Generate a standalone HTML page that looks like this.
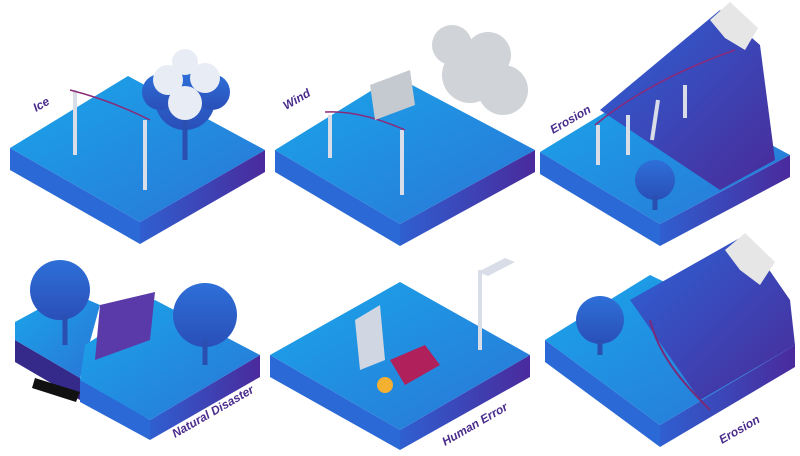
<!DOCTYPE html>
<html><head><meta charset="utf-8"><style>
html,body{margin:0;padding:0;background:#fff;width:800px;height:456px;overflow:hidden}
svg{display:block}
text{font-family:"Liberation Sans",sans-serif;font-weight:bold;font-style:italic;fill:#4a2c8c;font-size:12px}
</style></head><body>
<svg width="800" height="456" viewBox="0 0 800 456" xmlns="http://www.w3.org/2000/svg">
<defs>
<linearGradient id="top" x1="0" y1="0" x2="1" y2="1">
<stop offset="0" stop-color="#1aa6ea"/><stop offset="1" stop-color="#2a74d6"/></linearGradient>
<linearGradient id="side" x1="0" y1="0" x2="1" y2="0">
<stop offset="0" stop-color="#2f5fd0"/><stop offset="1" stop-color="#4a2a9c"/></linearGradient>
<linearGradient id="mtn" x1="0" y1="0" x2="1" y2="1">
<stop offset="0" stop-color="#2c64d8"/><stop offset="1" stop-color="#4a2a98"/></linearGradient>
<linearGradient id="tree" x1="0" y1="0" x2="0" y2="1">
<stop offset="0" stop-color="#2e6fd8"/><stop offset="1" stop-color="#2a4fb8"/></linearGradient>
</defs>

<!-- Tile 1 -->
<polygon points="10,148 140,222 140,244 10,170" fill="#2b6ad6"/>
<polygon points="140,222 265,150 265,172 140,244" fill="url(#side)"/>
<polygon points="10,148 128,76 265,150 140,222" fill="url(#top)"/>
<!-- Tile 2 -->
<polygon points="275,150 400,224 400,246 275,172" fill="#2b6ad6"/>
<polygon points="400,224 535,150 535,172 400,246" fill="url(#side)"/>
<polygon points="275,150 395,76 535,150 400,224" fill="url(#top)"/>
<!-- Tile 3 -->
<polygon points="540,152 660,224 660,246 540,174" fill="#2b6ad6"/>
<polygon points="660,224 790,155 790,177 660,246" fill="url(#side)"/>
<polygon points="540,152 655,82 790,155 660,224" fill="url(#top)"/>
<polygon points="600,110 720,10 760,45 775,160 720,190" fill="url(#mtn)"/>
<polygon points="710,20 730,2 758,28 745,50 725,38" fill="#e6e6e6"/>
<!-- Tile 4 -->
<polygon points="15,340 80,378 80,400 15,362" fill="#352a8a"/>
<polygon points="15,322 70,292 100,305 80,378 15,340" fill="url(#top)"/>
<polygon points="80,378 150,420 150,440 80,402" fill="#2b6ad6"/>
<polygon points="150,420 260,355 260,377 150,440" fill="url(#side)"/>
<polygon points="85,345 155,300 260,355 150,420 80,380" fill="url(#top)"/>
<polygon points="100,305 155,292 150,340 95,360" fill="#5a3aa8"/>
<polygon points="35,378 80,392 76,402 32,388" fill="#111"/>
<!-- Tile 5 -->
<polygon points="270,355 400,430 400,450 270,377" fill="#2b6ad6"/>
<polygon points="400,430 530,355 530,377 400,450" fill="url(#side)"/>
<polygon points="270,355 400,282 530,355 400,430" fill="url(#top)"/>
<!-- Tile 6 -->
<polygon points="545,340 660,425 660,447 545,362" fill="#2b6ad6"/>
<polygon points="660,425 795,345 795,367 660,447" fill="url(#side)"/>
<polygon points="545,340 650,275 795,345 660,425" fill="url(#top)"/>
<polygon points="630,300 745,235 790,300 795,345 700,400" fill="url(#mtn)"/>
<polygon points="725,250 745,233 775,262 760,285 740,270" fill="#e6e6e6"/>
<path d="M650 320 C660 360 690 390 710 410" stroke="#7a2a7a" stroke-width="2" fill="none"/>

<!-- poles -->
<g stroke="#d8dde8" stroke-width="4">
<line x1="75" y1="90" x2="75" y2="155"/><line x1="145" y1="120" x2="145" y2="190"/>
<line x1="330" y1="115" x2="330" y2="158"/><line x1="402" y1="130" x2="402" y2="195"/>
<line x1="598" y1="125" x2="598" y2="165"/><line x1="628" y1="115" x2="628" y2="155"/>
<line x1="658" y1="100" x2="652" y2="140"/><line x1="685" y1="85" x2="685" y2="118"/>
<line x1="480" y1="270" x2="480" y2="350"/>
</g>
<polygon points="478,272 505,258 515,262 488,276" fill="#d8dde8"/>
<g stroke="#8a2a7a" stroke-width="1.5" fill="none">
<path d="M70 90 Q110 100 150 120"/><path d="M325 112 Q360 110 405 130"/>
<path d="M595 125 Q650 80 735 50"/>
</g>
<!-- trees -->
<g fill="url(#tree)">
<circle cx="185" cy="100" r="30"/><circle cx="160" cy="92" r="18"/><circle cx="212" cy="92" r="18"/>
<circle cx="655" cy="180" r="20"/>
<circle cx="60" cy="290" r="30"/><circle cx="205" cy="315" r="32"/>
<circle cx="600" cy="320" r="24"/>
</g>
<g fill="#e8edf5"><circle cx="185" cy="62" r="13"/><circle cx="168" cy="80" r="15"/><circle cx="205" cy="78" r="15"/><circle cx="185" cy="103" r="17"/></g>
<g stroke="#2a4fb0" stroke-width="5"><line x1="185" y1="120" x2="185" y2="160"/><line x1="655" y1="195" x2="655" y2="210"/><line x1="65" y1="315" x2="65" y2="345"/><line x1="205" y1="340" x2="205" y2="365"/><line x1="600" y1="340" x2="600" y2="355"/></g>
<!-- cloud -->
<g fill="#d0d3d8"><circle cx="470" cy="75" r="28"/><circle cx="503" cy="90" r="25"/><circle cx="452" cy="45" r="20"/><circle cx="488" cy="55" r="23"/></g>
<g fill="#c5c9d0"><polygon points="370,85 410,70 415,105 375,120"/></g>
<!-- car -->
<polygon points="390,360 425,345 440,365 405,385" fill="#b0205a"/>
<circle cx="385" cy="385" r="8" fill="#f4b030"/>
<polygon points="355,320 380,305 385,360 360,370" fill="#d0d6e2"/>

<text transform="translate(36,112) rotate(-30)">Ice</text>
<text transform="translate(286,110) rotate(-30)">Wind</text>
<text transform="translate(553,134) rotate(-30)">Erosion</text>
<text transform="translate(175,438) rotate(-30)">Natural Disaster</text>
<text transform="translate(445,446) rotate(-30)">Human Error</text>
<text transform="translate(722,444) rotate(-30)">Erosion</text>
</svg>
</body></html>
